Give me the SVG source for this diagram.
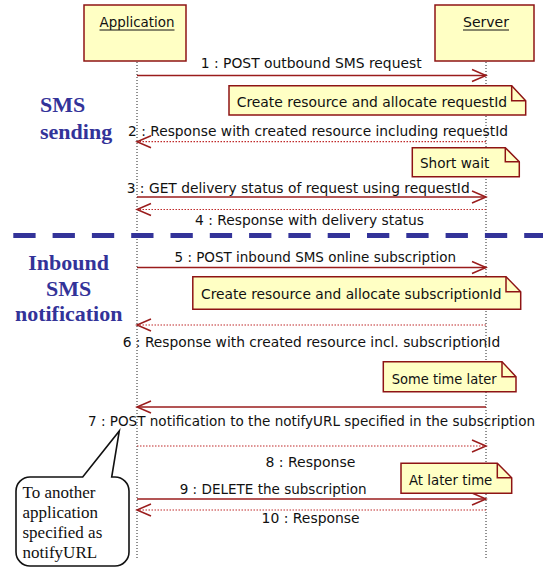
<svg xmlns="http://www.w3.org/2000/svg" width="543" height="569" viewBox="0 0 543 569">
<defs>
<style>
.lbl{font-family:"DejaVu Sans","Liberation Sans",sans-serif;font-size:14px;fill:#111}
.box{fill:#ffffc4;stroke:#8e1414;stroke-width:1.5}
.note{fill:#ffffc4;stroke:#8e1414;stroke-width:1.5;stroke-linejoin:miter}
.life{stroke:#222;stroke-width:1;stroke-dasharray:1 2;fill:none}
.msg{stroke:#9a1c1c;stroke-width:1.5;fill:none;marker-end:url(#ah)}
.ret{stroke:#c02a2a;stroke-width:1.2;stroke-dasharray:1.5 1.5;fill:none;marker-end:url(#ah)}
.head{font-family:"Liberation Serif","Times New Roman",serif;font-size:22px;font-weight:bold;fill:#333399}
.call{font-family:"Liberation Serif","Times New Roman",serif;font-size:17px;fill:#111}
</style>
<marker id="ah" markerUnits="userSpaceOnUse" markerWidth="16" markerHeight="14" refX="14" refY="6" orient="auto" overflow="visible">
<path d="M0,0 L14,6 L0,12" fill="none" stroke="#9a1c1c" stroke-width="1.5"/>
</marker>
</defs>

<g id="lifelines">
<line class="life" x1="137" y1="62" x2="137" y2="558"/>
<line class="life" x1="486" y1="62" x2="486" y2="558"/>
</g>

<g id="application">
<rect class="box" x="84" y="5" width="102" height="56"/>
<text class="lbl" x="137" y="27" text-anchor="middle" textLength="75" lengthAdjust="spacingAndGlyphs">Application</text>
<line x1="99.5" y1="30" x2="174.5" y2="30" stroke="#111" stroke-width="1"/>
</g>

<g id="server">
<rect class="box" x="435" y="5" width="99" height="56"/>
<text class="lbl" x="486" y="27" text-anchor="middle" textLength="46" lengthAdjust="spacingAndGlyphs">Server</text>
<line x1="463" y1="30" x2="509" y2="30" stroke="#111" stroke-width="1"/>
</g>

<g id="sections">
<text class="head" x="40" y="111.5">SMS</text>
<text class="head" x="40" y="138.5">sending</text>
<line x1="13.3" y1="235.5" x2="543" y2="235.5" stroke="#333399" stroke-width="5" stroke-dasharray="22.3 17"/>
<text class="head" x="68.7" y="270" text-anchor="middle">Inbound</text>
<text class="head" x="68.7" y="296" text-anchor="middle">SMS</text>
<text class="head" x="68.7" y="321" text-anchor="middle">notification</text>
</g>

<g id="connectors">
<line class="msg" x1="137" y1="75.5" x2="486" y2="75.5"/>
<line class="ret" x1="486" y1="141.7" x2="137" y2="141.7"/>
<line class="msg" x1="137" y1="197" x2="486" y2="197"/>
<line class="ret" x1="486" y1="209.5" x2="137" y2="209.5"/>
<line class="msg" x1="137" y1="267.5" x2="486" y2="267.5"/>
<line class="ret" x1="486" y1="325" x2="137" y2="325"/>
<line class="msg" x1="486" y1="407" x2="137" y2="407"/>
<line class="ret" x1="137" y1="446" x2="486" y2="446"/>
<line class="msg" x1="137" y1="499" x2="486" y2="499"/>
<line class="ret" x1="486" y1="510" x2="137" y2="510"/>
</g>

<g id="labels">
<text class="lbl" x="200.7" y="68.3" textLength="221" lengthAdjust="spacingAndGlyphs">1 : POST outbound SMS request</text>
<text class="lbl" x="128" y="135.5" textLength="380" lengthAdjust="spacingAndGlyphs">2 : Response with created resource including requestId</text>
<text class="lbl" x="126.7" y="192.8" textLength="343" lengthAdjust="spacingAndGlyphs">3 : GET delivery status of request using requestId</text>
<text class="lbl" x="195" y="225" textLength="229" lengthAdjust="spacingAndGlyphs">4 : Response with delivery status</text>
<text class="lbl" x="174.5" y="261.5" textLength="281.5" lengthAdjust="spacingAndGlyphs">5 : POST inbound SMS online subscription</text>
<text class="lbl" x="122.7" y="346.5" textLength="377.5" lengthAdjust="spacingAndGlyphs">6 : Response with created resource incl. subscriptionId</text>
<text class="lbl" x="88" y="425.5" style="font-size:13.2px" textLength="447" lengthAdjust="spacingAndGlyphs">7 : POST notification to the notifyURL specified in the subscription</text>
<text class="lbl" x="265.4" y="467" textLength="90" lengthAdjust="spacingAndGlyphs">8 : Response</text>
<text class="lbl" x="179.7" y="493.5" textLength="187" lengthAdjust="spacingAndGlyphs">9 : DELETE the subscription</text>
<text class="lbl" x="261.6" y="523" textLength="98" lengthAdjust="spacingAndGlyphs">10 : Response</text>
</g>

<g id="note-create-request">
<path class="note" d="M229,85.7 H511.7 L525.7,100.7 V115 H229 Z"/>
<path d="M511.7,85.7 V100.7 H525.7" fill="none" stroke="#8e1414" stroke-width="1.5"/>
<text class="lbl" x="236.7" y="107" textLength="270.5" lengthAdjust="spacingAndGlyphs">Create resource and allocate requestId</text>
</g>

<g id="note-short-wait">
<path class="note" d="M412.3,147.7 H505.3 L519.3,161.7 V176.7 H412.3 Z"/>
<path d="M505.3,147.7 V161.7 H519.3" fill="none" stroke="#8e1414" stroke-width="1.5"/>
<text class="lbl" x="420" y="168.3" textLength="69.3" lengthAdjust="spacingAndGlyphs">Short wait</text>
</g>

<g id="note-create-subscription">
<path class="note" d="M192.8,276.7 H506 L520.7,291.7 V309.3 H192.8 Z"/>
<path d="M506,276.7 V291.7 H520.7" fill="none" stroke="#8e1414" stroke-width="1.5"/>
<text class="lbl" x="201" y="299" textLength="300.5" lengthAdjust="spacingAndGlyphs">Create resource and allocate subscriptionId</text>
</g>

<g id="note-some-time-later">
<path class="note" d="M383.3,361.7 H502 L516,376.7 V391.7 H383.3 Z"/>
<path d="M502,361.7 V376.7 H516" fill="none" stroke="#8e1414" stroke-width="1.5"/>
<text class="lbl" x="391.7" y="384" textLength="105" lengthAdjust="spacingAndGlyphs">Some time later</text>
</g>

<g id="note-at-later-time">
<path class="note" d="M401,463.3 H497.3 L511.7,477.7 V493.3 H401 Z"/>
<path d="M497.3,463.3 V477.7 H511.7" fill="none" stroke="#8e1414" stroke-width="1.5"/>
<text class="lbl" x="409" y="485" textLength="83.3" lengthAdjust="spacingAndGlyphs">At later time</text>
</g>

<g id="callout">
<path d="M30,477 H82.7 L119.3,431 L111.7,477 H115 A14,14 0 0 1 129,491 V552 A14,14 0 0 1 115,566 H30 A14,14 0 0 1 16,552 V491 A14,14 0 0 1 30,477 Z" fill="#fff" stroke="#111" stroke-width="1.6" stroke-linejoin="miter"/>
<text class="call" x="22.5" y="498">To another</text>
<text class="call" x="22.5" y="518">application</text>
<text class="call" x="22.5" y="538">specified as</text>
<text class="call" x="22.5" y="558">notifyURL</text>
</g>
</svg>
